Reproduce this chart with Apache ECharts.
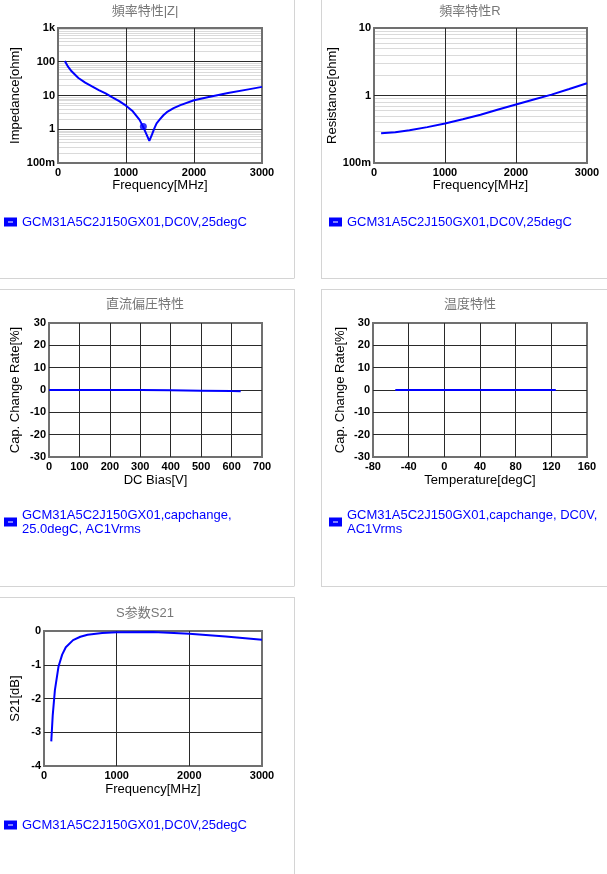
<!DOCTYPE html>
<html><head><meta charset="utf-8">
<script src="https://cdn.jsdelivr.net/npm/echarts@6/dist/echarts.min.js"></script>
<style>html,body{margin:0;padding:0;background:#fff}#c{width:607px;height:874px}</style>
</head><body><div id="c"></div>
<script>
// ---------- data ----------
const partName = 'GCM31A5C2J150GX01,DC0V,25degC';
const dcName = 'GCM31A5C2J150GX01,capchange, 25.0degC, AC1Vrms';
const tcName = 'GCM31A5C2J150GX01,capchange, DC0V, AC1Vrms';

const zFreq = [100,150,200,300,400,500,600,700,800,900,1000,1100,1200,1250,1300,1343,1380,1420,1450,1500,1550,1600,1700,1800,2000,2200,2500,2800,3000];
const zImp  = [105,70,52,33,24,18.5,14.5,11.5,8.8,6.8,5.0,3.4,1.9,1.2,0.72,0.45,0.68,1.1,1.5,2.0,2.6,3.2,4.2,5.2,7.2,8.9,11.8,15.2,18];
const zDotFreq = [1255];
const zDotImp  = [1.2];

const rFreq = [100,300,500,750,1000,1250,1500,1750,2000,2250,2500,2750,3000];
const rRes  = [0.275,0.285,0.305,0.34,0.385,0.445,0.52,0.62,0.735,0.87,1.03,1.25,1.52];

const dcVolt = [0,100,200,300,400,500,600,630];
const dcRate = [0,0,0,-0.05,-0.15,-0.3,-0.5,-0.55];

const tempC    = [-55,-25,0,25,50,85,125];
const tempRate = [0,0,0,0,0,0,0];

const sFreq = [100,120,150,200,250,300,400,500,600,800,1000,1500,2000,2500,3000];
const sS21  = [-3.27,-2.5,-1.75,-1.05,-0.7,-0.48,-0.27,-0.17,-0.11,-0.06,-0.04,-0.03,-0.08,-0.16,-0.26];

const logTickVals   = [0.1,1,10,100,1000];
const logTickLabels = ['100m','1','10','100','1k'];
const minorSteps = [2,3,4,5,6,7,8,9];

// ---------- helpers ----------
const BLUE = '#0000ff';
const FONT = 'Arial, "Liberation Sans", sans-serif';
function pairs(xs, ys){ return xs.map((x,i)=>[x, ys[i]]); }
function logFmt(v){ const e = Math.round(Math.log10(v)); const i = logTickVals.findIndex(t => Math.round(Math.log10(t)) === e); return i >= 0 ? logTickLabels[i] : ''; }
function plainFmt(v){ return String(v); }
function minorLines(minExp, maxExp){
  const out = [];
  for (let e = minExp; e < maxExp; e++) for (const s of minorSteps) out.push({yAxis: s * Math.pow(10, e)});
  return out;
}
const tickLabel = {fontSize:11, color:'#000', fontWeight:'bold', fontFamily:FONT};
const splitMajor = {show:true, showMinLine:false, showMaxLine:false, lineStyle:{color:'#2a2a2a', width:1}};
function xAx(gi, min, max, interval, name, gap){
  return {gridIndex:gi, type:'value', min, max, interval, name, nameLocation:'middle', nameGap:gap, z:1,
    nameTextStyle:{fontSize:13, color:'#000', fontFamily:FONT},
    axisLine:{show:false}, axisTick:{show:false}, splitLine:splitMajor,
    axisLabel:Object.assign({margin:4, formatter:plainFmt}, tickLabel)};
}
function yAx(gi, opt, name, gap){
  return Object.assign({gridIndex:gi, name, nameLocation:'middle', nameGap:gap, nameRotate:90, z:1,
    nameTextStyle:{fontSize:13, color:'#000', fontFamily:FONT},
    axisLine:{show:false}, axisTick:{show:false}, splitLine:splitMajor,
    axisLabel:Object.assign({margin:3, formatter:plainFmt}, tickLabel)}, opt);
}
function grid(left, top, width, height){
  return {left, top, width, height, show:true, borderColor:'#707070', borderWidth:2, backgroundColor:'transparent', z:1};
}
function title(text, x, y){
  return {text, left:x, top:y, textAlign:'center', padding:0,
    textStyle:{fontSize:13, fontWeight:'normal', color:'#777', fontFamily:'Arial, "Noto Sans CJK JP", sans-serif'}};
}
function legend(left, top, name, fmt){
  return {left, top, padding:0, data:[name], selectedMode:false,
    icon:'path://M0,0H13V9H0Z M4,4V5H9V4Z', itemWidth:13, itemHeight:9,
    itemStyle:{borderWidth:0}, formatter: fmt || (n => n),
    textStyle:{color:BLUE, fontSize:13, fontFamily:FONT, lineHeight:14}};
}
function lineSeries(name, xi, yi, data, extra){
  return Object.assign({type:'line', name, xAxisIndex:xi, yAxisIndex:yi, data, showSymbol:false, symbol:'none', z:3,
    lineStyle:{color:BLUE, width:2}, itemStyle:{color:BLUE}, silent:true}, extra || {});
}
function minorMark(minExp, maxExp){
  return {silent:true, z:0, symbol:['none','none'], label:{show:false}, emphasis:{disabled:true},
    lineStyle:{color:'#dadada', width:1, type:'solid'}, data:minorLines(minExp, maxExp)};
}

const chart = echarts.init(document.getElementById('c'));
const borderColor = '#d4d4d4';
function hl(x1, x2, y){ return {type:'line', silent:true, shape:{x1, y1:y, x2, y2:y}, style:{stroke:borderColor, lineWidth:1}}; }
function vl(x, y1, y2){ return {type:'line', silent:true, shape:{x1:x, y1, x2:x, y2}, style:{stroke:borderColor, lineWidth:1}}; }

chart.setOption({
  animation:false,
  title:[
    title('頻率特性|Z|', 145, 5),
    title('頻率特性R', 470, 5),
    title('直流偏圧特性', 145, 298),
    title('温度特性', 470, 298),
    title('S参数S21', 145, 607)
  ],
  grid:[
    grid(58, 28, 204, 135),
    grid(374, 28, 213, 135),
    grid(49, 323, 213, 134),
    grid(373, 323, 214, 134),
    grid(44, 631, 218, 135)
  ],
  xAxis:[
    xAx(0, 0, 3000, 1000, 'Frequency[MHz]', 16),
    xAx(1, 0, 3000, 1000, 'Frequency[MHz]', 16),
    xAx(2, 0, 700, 100, 'DC Bias[V]', 17),
    xAx(3, -80, 160, 40, 'Temperature[degC]', 17),
    xAx(4, 0, 3000, 1000, 'Frequency[MHz]', 17)
  ],
  yAxis:[
    yAx(0, {type:'log', logBase:10, min:0.1, max:1000, axisLabel:Object.assign({margin:3, formatter:logFmt}, tickLabel)}, 'Impedance[ohm]', 36),
    yAx(1, {type:'log', logBase:10, min:0.1, max:10, axisLabel:Object.assign({margin:3, formatter:logFmt}, tickLabel)}, 'Resistance[ohm]', 27),
    yAx(2, {type:'value', min:-30, max:30, interval:10}, 'Cap. Change Rate[%]', 27),
    yAx(3, {type:'value', min:-30, max:30, interval:10}, 'Cap. Change Rate[%]', 26),
    yAx(4, {type:'value', min:-4, max:0, interval:1}, 'S21[dB]', 22)
  ],
  legend:[
    legend(4, 215, partName),
    legend(329, 215, partName),
    legend(4, 508, dcName, n => n.replace(', 25.0degC', ',\n25.0degC')),
    legend(329, 508, tcName, n => n.replace(', AC1Vrms', ',\nAC1Vrms')),
    legend(4, 818, partName)
  ],
  series:[
    lineSeries(partName, 0, 0, pairs(zFreq, zImp), {markLine:minorMark(-1, 3)}),
    {type:'scatter', name:partName, xAxisIndex:0, yAxisIndex:0, z:4, data:pairs(zDotFreq, zDotImp), symbolSize:7, itemStyle:{color:BLUE}, silent:true},
    lineSeries(partName, 1, 1, pairs(rFreq, rRes), {markLine:minorMark(-1, 1)}),
    lineSeries(dcName, 2, 2, pairs(dcVolt, dcRate)),
    lineSeries(tcName, 3, 3, pairs(tempC, tempRate)),
    lineSeries(partName, 4, 4, pairs(sFreq, sS21))
  ],
  graphic:[
    vl(294.5, 0, 278), vl(294.5, 289, 586), vl(294.5, 597, 874),
    vl(321.5, 0, 278), vl(321.5, 289, 586),
    hl(0, 294.5, 278.5), hl(321, 607, 278.5),
    hl(0, 294.5, 289.5), hl(321, 607, 289.5),
    hl(0, 294.5, 586.5), hl(321, 607, 586.5),
    hl(0, 294.5, 597.5)
  ]
});
</script></body></html>
